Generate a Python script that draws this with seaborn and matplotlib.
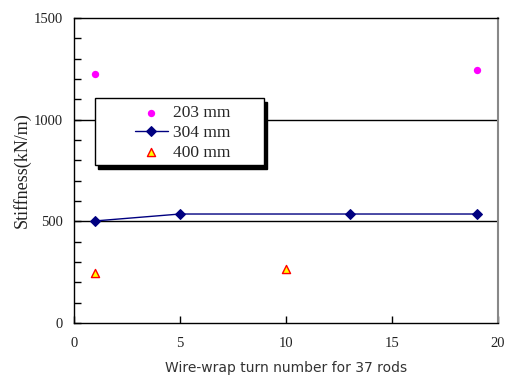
import matplotlib
matplotlib.use("Agg")
import matplotlib.pyplot as plt
import seaborn as sns
import pandas as pd
from matplotlib.ticker import MultipleLocator
from matplotlib.patches import Rectangle

sns.set_style("white")
plt.rcParams['font.family'] = ['Liberation Serif', 'DejaVu Serif']

x203 = [1, 19]
y203 = [1224, 1246]
x304 = [1, 5, 13, 19]
y304 = [502, 536, 536, 536]
x400 = [1, 10]
y400 = [246, 266]

W, H = 506, 376
L, R, T, B = 74, 498, 18, 323
fig = plt.figure(figsize=(W/100, H/100), dpi=100)
ax = fig.add_axes([L/W, 1-B/H, (R-L)/W, (B-T)/H])

def ax_x(px):
    return (px - L) / (R - L)

def ax_y(py):
    return (B - py) / (B - T)

for yv in [500, 1000]:
    ax.axhline(yv, color='black', lw=1.0, zorder=1)

sns.scatterplot(x=x203, y=y203, ax=ax, color='#ff00ff', marker='o', s=28,
                edgecolor='#ff00ff', linewidth=0, label='203 mm', zorder=3)
sns.lineplot(x=x304, y=y304, ax=ax, color='#000080', marker='D', markersize=5,
             markeredgecolor='#000080', lw=1.0, label='304 mm', zorder=3)
sns.scatterplot(x=x400, y=y400, ax=ax, color='#ffff00', marker='^', s=34,
                edgecolor='#ff0000', linewidth=1.0, label='400 mm', zorder=3)

ax.set_xlim(0, 20)
ax.set_ylim(0, 1500)
ax.xaxis.set_major_locator(MultipleLocator(5))
ax.yaxis.set_major_locator(MultipleLocator(500))
ax.yaxis.set_minor_locator(MultipleLocator(100))
ax.tick_params(axis='both', which='both', direction='in', left=True, bottom=True,
               colors='black', labelsize=10.5, length=5, width=1)
ax.tick_params(axis='y', which='minor', length=5)
ax.tick_params(axis='x', pad=10)
ax.tick_params(axis='y', pad=8)
for t in ax.get_xticklabels() + ax.get_yticklabels():
    t.set_color('#222222')

for s in ['left', 'bottom', 'top']:
    ax.spines[s].set_color('black')
    ax.spines[s].set_linewidth(1.0)
ax.spines['right'].set_color('#888888')
ax.spines['right'].set_linewidth(1.5)

ax.set_ylabel('Stiffness(kN/m)', fontsize=13, color='#222222', labelpad=2)
ax.set_xlabel('Wire-wrap turn number for 37 rods', fontsize=10, color='#333333',
              family=['DejaVu Sans'], labelpad=8)

# legend box with shadow
bx0, bx1, by0, by1 = 95, 264, 98, 165
ax.add_patch(Rectangle((ax_x(bx0 + 3), ax_y(by1 + 4)), ax_x(bx1) - ax_x(bx0),
                       ax_y(by0) - ax_y(by1), transform=ax.transAxes,
                       facecolor='black', edgecolor='black', lw=1, zorder=4,
                       clip_on=False))
ax.add_patch(Rectangle((ax_x(bx0), ax_y(by1)), ax_x(bx1) - ax_x(bx0),
                       ax_y(by0) - ax_y(by1), transform=ax.transAxes,
                       facecolor='white', edgecolor='black', lw=1, zorder=5,
                       clip_on=False))

leg = ax.legend(loc='center left', bbox_to_anchor=(ax_x(135), ax_y(133)),
                frameon=False, fontsize=12.5, handlelength=1.9, borderpad=0,
                labelspacing=0.2, handletextpad=0.3, borderaxespad=0)
leg.set_zorder(6)

fig.savefig('out.png', dpi=100)
